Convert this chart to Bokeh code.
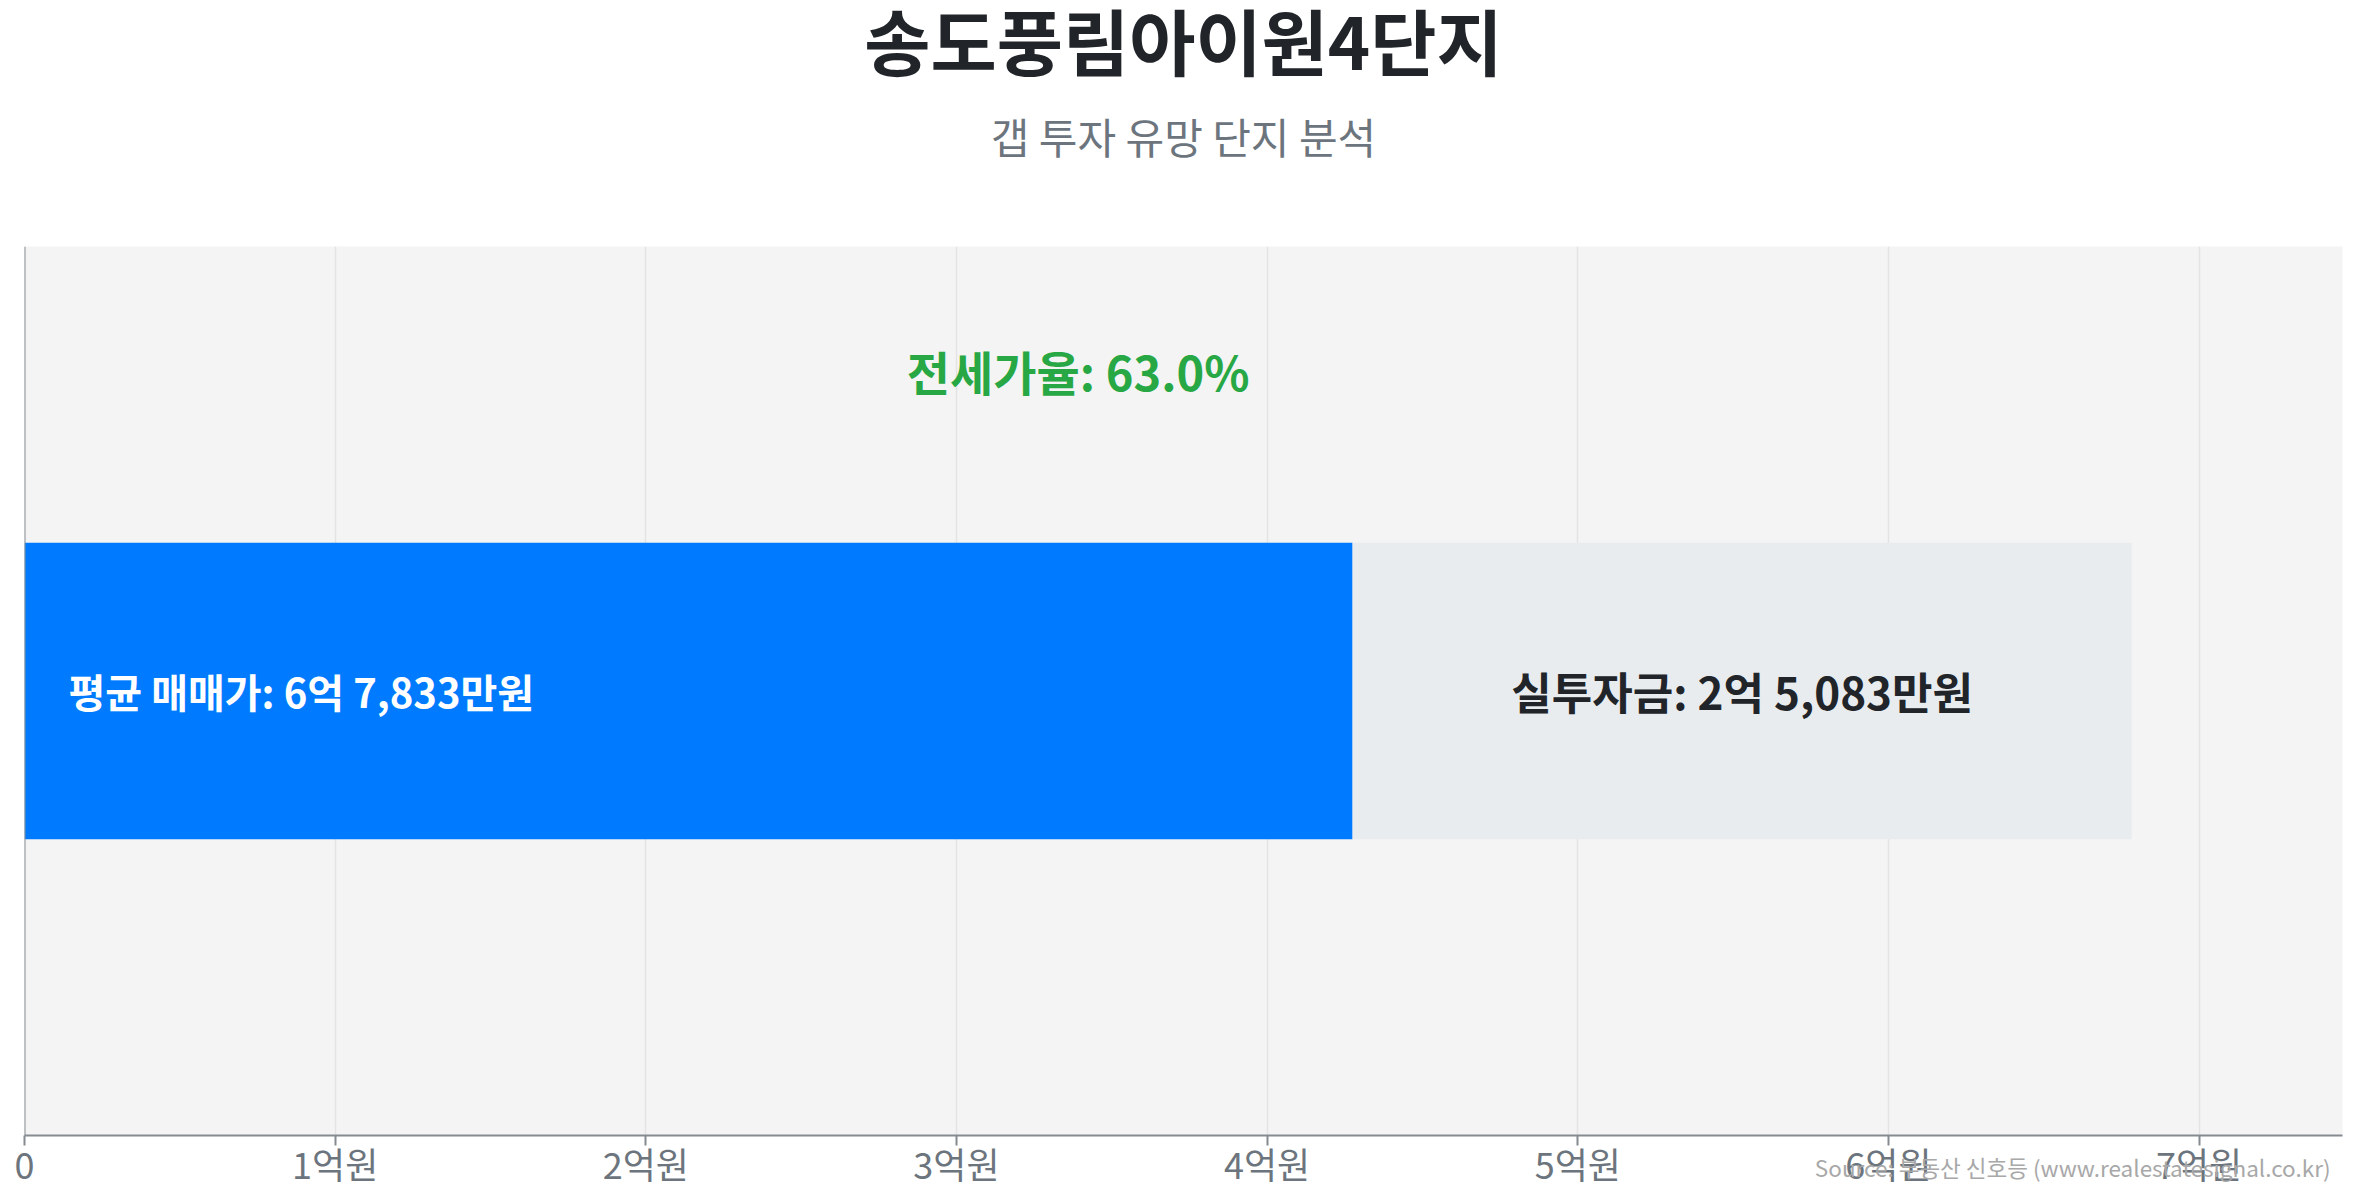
from bokeh.plotting import figure
from bokeh.models import Range1d, FixedTicker, Label, Span, Title
from bokeh.embed import file_html
from bokeh.resources import INLINE

# values in 만원
sale_price = 67833
gap_amount = 25083
jeonse_price = sale_price - gap_amount
jeonse_ratio = 63.0

tick_values = [0, 10000, 20000, 30000, 40000, 50000, 60000, 70000]
tick_labels = ["0", "1억원", "2억원", "3억원", "4억원", "5억원", "6억원", "7억원"]

title_text = "송도풍림아이원4단지"
subtitle_text = "갭 투자 유망 단지 분석"
sale_label = "평균 매매가: 6억 7,833만원"
gap_label = "실투자금: 2억 5,083만원"
ratio_label = "전세가율: 63.0%"
source_text = "Source: 부동산 신호등 (www.realestatesignal.co.kr)"

FONT = "Noto Sans CJK KR"
AXIS_GREY = "#858b91"
W, H = 2350, 1191

p = figure(width=W, height=H, output_backend="svg", toolbar_location=None,
           x_range=Range1d(0, sale_price * 1.1), y_range=Range1d(0, 3),
           min_border_left=24, min_border_right=8, min_border_top=0, min_border_bottom=0)

p.background_fill_color = "#f4f4f4"
p.border_fill_color = "white"
p.outline_line_color = None

# source credit: drawn at canvas position, its panel sits above the plot
p.add_layout(Label(x=2330, y=1166, x_units="canvas", y_units="canvas", text=source_text,
                   text_align="right", text_baseline="middle", text_font=FONT,
                   text_font_size="22.5px", text_color="#a8a8a8"), "above")

# titles: spacer nearest the plot, then subtitle, then main title
p.add_layout(Title(text=" ", text_font_size="1px", standoff=17), "above")
p.add_layout(Title(text=subtitle_text, align="center", vertical_align="middle", text_font=FONT,
                   text_font_size="42px", text_font_style="normal", text_color="#6c757d",
                   standoff=56), "above")
p.add_layout(Title(text=title_text, align="center", vertical_align="middle", text_font=FONT,
                   text_font_size="72px", text_font_style="bold", text_color="#212529",
                   standoff=-32), "above")

# bars
p.hbar(y=[1.5], left=[0], right=[jeonse_price], height=1, color="#007bff", line_color=None)
p.hbar(y=[1.5], left=[jeonse_price], right=[sale_price], height=1, color="#e9ecef", line_color=None)

p.text(x=[0], y=[1.5], text=[sale_label], x_offset=44, text_align="left", text_baseline="middle",
       text_font={"value": FONT}, text_font_size="40px", text_font_style="bold", text_color="white")
p.text(x=[(jeonse_price + sale_price) / 2], y=[1.5], text=[gap_label], text_align="center",
       text_baseline="middle", text_font={"value": FONT}, text_font_size="44px",
       text_font_style="bold", text_color="#212529")
p.text(x=[sale_price / 2], y=[2.58], text=[ratio_label], text_align="center",
       text_baseline="middle", text_font={"value": FONT}, text_font_size="47px",
       text_font_style="bold", text_color="#28a745")

# axes
p.yaxis.visible = False
p.ygrid.grid_line_color = None
p.xgrid.grid_line_color = "#e4e4e4"
p.xgrid.grid_line_width = 1.5
p.xaxis.ticker = FixedTicker(ticks=tick_values)
p.xgrid.ticker = FixedTicker(ticks=tick_values)
p.xaxis.major_label_overrides = {v: s for v, s in zip(tick_values, tick_labels)}
p.xaxis.minor_tick_line_color = None
p.xaxis.major_tick_in = 0
p.xaxis.major_tick_out = 10
p.xaxis.major_tick_line_color = AXIS_GREY
p.xaxis.major_tick_line_width = 2
p.xaxis.axis_line_color = AXIS_GREY
p.xaxis.axis_line_width = 2
p.xaxis.major_label_standoff = -9
p.xaxis.major_label_text_font = FONT
p.xaxis.major_label_text_font_size = "36px"
p.xaxis.major_label_text_color = "#6c757d"

p.add_layout(Span(location=0, dimension="height", line_color=AXIS_GREY, line_width=2))

open("out.html", "w").write(file_html(p, INLINE))
